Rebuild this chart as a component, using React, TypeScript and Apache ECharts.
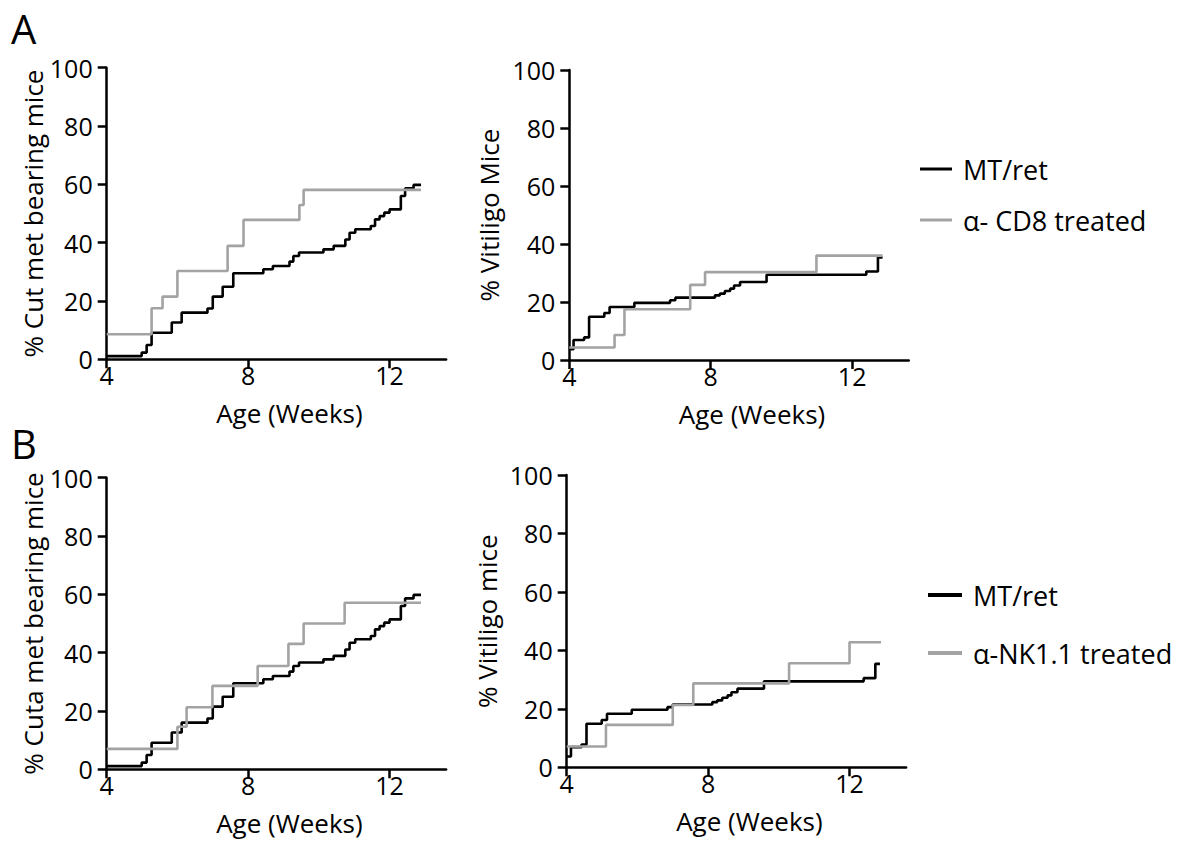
import React, { useEffect, useRef } from "react";
import * as echarts from "echarts";

// ---- axis ticks ----
const weekTicks = [4, 8, 12];
const weekMin = 4;
const weekMax = 13.6;
const pctMin = 0;
const pctMax = 100;
const pctStep = 20;

// ---- MT/ret (control) : cutaneous metastasis ----
const cutMtretWeeks = [4, 4.99, 5.13, 5.27, 5.84, 6.12, 6.85, 7.0, 7.28, 7.58, 8.43, 8.7, 9.17, 9.28, 9.44, 10.13, 10.42, 10.75, 10.87, 11.03, 11.47, 11.59, 11.72, 11.85, 12.0, 12.32, 12.44, 12.68, 12.89];
const cutMtretPct = [1.1, 2.3, 4.9, 9.1, 12.6, 16.0, 17.4, 21.5, 24.9, 29.5, 30.9, 32.0, 33.5, 35.4, 36.6, 37.7, 38.9, 41.1, 43.4, 44.6, 45.7, 48.0, 49.1, 50.3, 51.4, 56.0, 58.6, 59.8, 59.8];

// ---- α-CD8 treated : cutaneous metastasis ----
const cutCd8Weeks = [4, 5.27, 5.58, 6.0, 7.42, 7.87, 9.45, 9.57, 12.89];
const cutCd8Pct = [8.6, 17.5, 21.5, 30.3, 38.9, 47.8, 52.9, 58.1, 58.1];

// ---- MT/ret (control) : vitiligo ----
const vitMtretWeeks = [4, 4.12, 4.42, 4.56, 4.99, 5.14, 5.84, 6.85, 7.0, 8.12, 8.26, 8.4, 8.55, 8.66, 8.83, 9.58, 12.4, 12.73, 12.86];
const vitMtretPct = [3.7, 6.9, 7.8, 14.9, 16.2, 18.3, 19.7, 20.6, 21.5, 22.3, 22.9, 23.8, 24.6, 25.7, 26.9, 29.4, 30.5, 35.4, 35.4];

// ---- α-CD8 treated : vitiligo ----
const vitCd8Weeks = [4, 5.28, 5.56, 7.42, 7.84, 10.99, 12.86];
const vitCd8Pct = [4.3, 8.6, 17.5, 25.9, 30.3, 36.0, 36.0];

// ---- α-NK1.1 treated : cutaneous metastasis ----
const cutNkWeeks = [4, 6.0, 6.26, 6.99, 8.27, 9.14, 9.57, 10.73, 12.89];
const cutNkPct = [7.0, 14.6, 21.3, 28.6, 35.4, 43.0, 50.0, 57.1, 57.1];

// ---- α-NK1.1 treated : vitiligo ----
const vitNkWeeks = [4, 5.11, 7.0, 7.58, 10.29, 12.0, 12.89];
const vitNkPct = [7.1, 14.5, 21.3, 28.7, 35.6, 42.8, 42.8];

// ---- labels ----
const panelLetters = ["A", "B"];
const yTitles = ["% Cut met bearing mice", "% Vitiligo Mice", "% Cuta met bearing mice", "% Vitiligo mice"];
const xTitle = "Age (Weeks)";
const controlName = "MT/ret";
const cd8Name = "α- CD8 treated";
const nkName = "α-NK1.1 treated";

const pairs = (t: number[], v: number[]) => t.map((x, i) => [x, v[i]]);

export default function App() {
  const ref = useRef<HTMLDivElement>(null);

  useEffect(() => {
    if (!ref.current) return;
    const chart = echarts.init(ref.current, null, { renderer: "svg" });
    const FONT = "Open Sans";
    const BLACK = "#000000";
    const GRAY = "#a3a3a3";

    const grids = [
      { left: 106.7, top: 67.7, width: 339.4, height: 291.6 },
      { left: 569.3, top: 70, width: 339.4, height: 290 },
      { left: 106.7, top: 477.7, width: 339.4, height: 291.6 },
      { left: 566.7, top: 475, width: 339.4, height: 292.3 },
    ];
    const yGaps = [61, 67, 61, 67];

    const xAxis = grids.map((_, i) => ({
      type: "value",
      gridIndex: i,
      min: weekMin,
      max: weekMax,
      axisLine: { onZero: false, lineStyle: { color: BLACK, width: 2.5 } },
      axisTick: { length: 9, lineStyle: { color: BLACK, width: 2.5 }, customValues: weekTicks },
      axisLabel: { customValues: weekTicks, margin: 3, fontSize: 25, color: BLACK, fontFamily: FONT },
      splitLine: { show: false },
      name: xTitle,
      nameLocation: "middle",
      nameGap: 41,
      nameTextStyle: { fontSize: 26, color: BLACK, fontFamily: FONT, padding: [0, 0, 0, 26] },
    }));

    const yAxis = grids.map((_, i) => ({
      type: "value",
      gridIndex: i,
      min: pctMin,
      max: pctMax,
      interval: pctStep,
      axisLine: { show: true, onZero: false, lineStyle: { color: BLACK, width: 2.5 } },
      axisTick: { show: true, length: 9, lineStyle: { color: BLACK, width: 2.5 } },
      axisLabel: { margin: 14, fontSize: 25, color: BLACK, fontFamily: FONT },
      splitLine: { show: false },
      name: yTitles[i],
      nameLocation: "middle",
      nameGap: yGaps[i],
      nameTextStyle: { fontSize: 26, color: BLACK, fontFamily: FONT },
    }));

    const mk = (name: string, color: string, idx: number, data: number[][]) => ({
      type: "line",
      name,
      xAxisIndex: idx,
      yAxisIndex: idx,
      step: "end",
      symbol: "none",
      color,
      lineStyle: { color, width: 2.6 },
      data,
      z: color === GRAY ? 3 : 2,
    });

    const series = [
      mk(controlName, BLACK, 0, pairs(cutMtretWeeks, cutMtretPct)),
      mk(cd8Name, GRAY, 0, pairs(cutCd8Weeks, cutCd8Pct)),
      mk(controlName, BLACK, 1, pairs(vitMtretWeeks, vitMtretPct)),
      mk(cd8Name, GRAY, 1, pairs(vitCd8Weeks, vitCd8Pct)),
      mk(controlName, BLACK, 2, pairs(cutMtretWeeks, cutMtretPct)),
      mk(nkName, GRAY, 2, pairs(cutNkWeeks, cutNkPct)),
      mk(controlName, BLACK, 3, pairs(vitMtretWeeks, vitMtretPct)),
      mk(nkName, GRAY, 3, pairs(vitNkWeeks, vitNkPct)),
    ];

    const legendText = { fontSize: 27, color: BLACK, fontFamily: FONT, lineHeight: 30, padding: [0, 0, 0, 6] };

    chart.setOption({
      animation: false,
      backgroundColor: "#ffffff",
      graphic: [
        { type: "text", left: 11, top: 8, style: { text: panelLetters[0], fontSize: 40, fontFamily: FONT, fill: BLACK } },
        { type: "text", left: 11, top: 423, style: { text: panelLetters[1], fontSize: 40, fontFamily: FONT, fill: BLACK } },
      ],
      legend: [
        {
          orient: "vertical",
          left: 920,
          top: 154,
          padding: 0,
          itemWidth: 32,
          itemHeight: 3,
          itemGap: 21,
          selectedMode: false,
          itemStyle: { borderWidth: 0 },
          textStyle: legendText,
          data: [
            { name: controlName, icon: "rect", itemStyle: { color: BLACK, borderWidth: 0 } },
            { name: cd8Name, icon: "rect", itemStyle: { color: GRAY, borderWidth: 0 } },
          ],
        },
        {
          orient: "vertical",
          left: 928,
          top: 580,
          padding: 0,
          itemWidth: 34,
          itemHeight: 4,
          itemGap: 28,
          selectedMode: false,
          itemStyle: { borderWidth: 0 },
          textStyle: legendText,
          data: [
            { name: controlName, icon: "rect", itemStyle: { color: BLACK, borderWidth: 0 } },
            { name: nkName, icon: "rect", itemStyle: { color: GRAY, borderWidth: 0 } },
          ],
        },
      ],
      grid: grids.map((g) => ({ ...g, containLabel: false })),
      xAxis,
      yAxis,
      series,
    });

    return () => chart.dispose();
  }, []);

  return (
    <div
      ref={ref}
      style={{ position: "fixed", left: 0, top: 0, width: 1178, height: 845, background: "#fff" }}
    />
  );
}
